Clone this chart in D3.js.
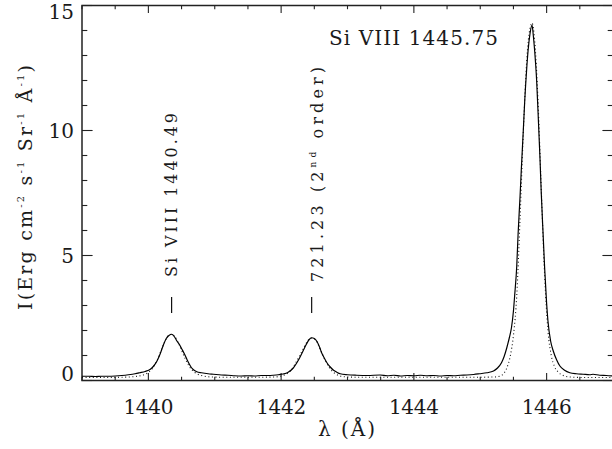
<!DOCTYPE html>
<html>
<head>
<meta charset="utf-8">
<script src="https://cdn.jsdelivr.net/npm/d3@7"></script>
<style>
  body { margin: 0; background: #fff; }
  svg { display: block; }
  .frame { fill: none; stroke: #222; stroke-width: 1.5; }
  .tick { stroke: #222; stroke-width: 1.1; }
</style>
</head>
<body>
<svg id="chart" width="612" height="449"></svg>
<script>
// observed spectrum (solid)
const obsLam = [1439.00, 1439.10, 1439.20, 1439.30, 1439.40, 1439.50, 1439.60, 1439.70, 1439.80, 1439.87,
  1439.95, 1440.03, 1440.08, 1440.13, 1440.18, 1440.23, 1440.27, 1440.30, 1440.35, 1440.39,
  1440.43, 1440.47, 1440.50, 1440.54, 1440.58, 1440.62, 1440.65, 1440.69, 1440.73, 1440.80,
  1440.90, 1440.98, 1441.10, 1441.20, 1441.30, 1441.40, 1441.50, 1441.60, 1441.70, 1441.80,
  1441.88, 1441.96, 1442.03, 1442.10, 1442.18, 1442.23, 1442.28, 1442.33, 1442.38, 1442.42,
  1442.46, 1442.50, 1442.54, 1442.58, 1442.61, 1442.65, 1442.69, 1442.74, 1442.79, 1442.84,
  1442.89, 1443.00, 1443.14, 1443.30, 1443.49, 1443.60, 1443.70, 1443.80, 1443.90, 1444.00,
  1444.10, 1444.20, 1444.30, 1444.40, 1444.50, 1444.60, 1444.70, 1444.80, 1444.90, 1444.99,
  1445.10, 1445.20, 1445.26, 1445.32, 1445.36, 1445.40, 1445.44, 1445.47, 1445.50, 1445.52,
  1445.55, 1445.57, 1445.60, 1445.62, 1445.65, 1445.67, 1445.70, 1445.72, 1445.75, 1445.78,
  1445.80, 1445.82, 1445.85, 1445.87, 1445.90, 1445.92, 1445.95, 1445.97, 1446.00, 1446.02,
  1446.06, 1446.10, 1446.15, 1446.20, 1446.27, 1446.35, 1446.45, 1446.55, 1446.65, 1446.70,
  1446.80, 1446.90, 1447.00];
const obsInt = [0.17, 0.17, 0.16, 0.17, 0.17, 0.18, 0.20, 0.23, 0.27, 0.31,
  0.36, 0.45, 0.58, 0.78, 1.08, 1.45, 1.68, 1.78, 1.85, 1.76,
  1.58, 1.43, 1.28, 1.08, 0.85, 0.64, 0.51, 0.41, 0.35, 0.31,
  0.27, 0.25, 0.22, 0.21, 0.19, 0.18, 0.19, 0.18, 0.20, 0.20,
  0.21, 0.23, 0.26, 0.32, 0.49, 0.68, 0.91, 1.18, 1.45, 1.63,
  1.71, 1.68, 1.56, 1.33, 1.11, 0.90, 0.71, 0.54, 0.41, 0.33,
  0.27, 0.23, 0.21, 0.20, 0.22, 0.19, 0.21, 0.18, 0.20, 0.19,
  0.21, 0.19, 0.20, 0.18, 0.20, 0.19, 0.21, 0.22, 0.24, 0.27,
  0.31, 0.38, 0.50, 0.71, 0.96, 1.31, 1.73, 2.11, 2.78, 3.45,
  4.58, 5.85, 7.38, 8.51, 10.08, 11.18, 12.48, 13.18, 13.88, 14.22,
  13.78, 13.18, 11.98, 10.78, 8.88, 7.45, 5.68, 4.51, 3.08, 2.38,
  1.58, 1.18, 0.83, 0.58, 0.41, 0.31, 0.27, 0.25, 0.23, 0.25,
  0.21, 0.20, 0.18];

// fitted profile (dotted)
const fitLam = [1439.00, 1439.30, 1439.60, 1439.80, 1439.95, 1440.05, 1440.13, 1440.23, 1440.30, 1440.35,
  1440.40, 1440.47, 1440.55, 1440.62, 1440.70, 1440.80, 1440.95, 1441.20, 1441.60, 1441.90,
  1442.05, 1442.15, 1442.25, 1442.33, 1442.40, 1442.46, 1442.52, 1442.60, 1442.68, 1442.76,
  1442.85, 1442.95, 1443.20, 1443.80, 1444.40, 1444.90, 1445.20, 1445.30, 1445.36, 1445.40,
  1445.45, 1445.50, 1445.55, 1445.60, 1445.65, 1445.70, 1445.75, 1445.78, 1445.82, 1445.87,
  1445.92, 1445.97, 1446.02, 1446.07, 1446.12, 1446.18, 1446.25, 1446.35, 1446.60, 1447.00];
const fitInt = [0.12, 0.12, 0.13, 0.16, 0.25, 0.45, 0.80, 1.45, 1.80, 1.85,
  1.75, 1.40, 0.90, 0.55, 0.32, 0.20, 0.14, 0.13, 0.13, 0.14,
  0.22, 0.42, 0.85, 1.25, 1.58, 1.70, 1.62, 1.18, 0.72, 0.40,
  0.22, 0.15, 0.13, 0.13, 0.13, 0.13, 0.14, 0.18, 0.30, 0.50,
  0.95, 1.80, 3.40, 6.50, 10.00, 12.80, 14.10, 14.30, 13.60, 11.20,
  7.60, 4.20, 2.00, 1.00, 0.55, 0.32, 0.20, 0.14, 0.12, 0.12];

const xTicks = [1440, 1442, 1444, 1446];
const yTicks = [0, 5, 10, 15];
const lineMarks = [1440.35, 1442.46];

const FONT = '"DejaVu Serif", "Liberation Serif", serif';
const svg = d3.select('#chart');
const x = d3.scaleLinear().domain([1439, 1447]).range([82, 613]);
const y = d3.scaleLinear().domain([0, 15]).range([380.5, 5.5]);
const [x0, x1] = x.range();
const [y0, y1] = y.range();

const txt = (sel) => sel.style('font-family', FONT).attr('fill', '#1a1a1a');

svg.append('defs').append('clipPath').attr('id', 'plot')
  .append('rect').attr('x', x0).attr('y', y1).attr('width', x1 - x0).attr('height', y0 - y1);

// ticks: IDL style, on all four sides
const xMinor = d3.range(1439, 1447.01, 0.5);
const yMinor = d3.range(0, 15.01, 1);
const tk = svg.append('g');
xMinor.forEach(v => {
  const len = xTicks.includes(v) ? 7.5 : 3.7;
  tk.append('line').attr('class', 'tick').attr('x1', x(v)).attr('x2', x(v)).attr('y1', y0).attr('y2', y0 - len);
  tk.append('line').attr('class', 'tick').attr('x1', x(v)).attr('x2', x(v)).attr('y1', y1).attr('y2', y1 + len);
});
yMinor.forEach(v => {
  const len = yTicks.includes(v) ? 10.6 : 5.3;
  tk.append('line').attr('class', 'tick').attr('x1', x0).attr('x2', x0 + len).attr('y1', y(v)).attr('y2', y(v));
  tk.append('line').attr('class', 'tick').attr('x1', x1).attr('x2', x1 - len).attr('y1', y(v)).attr('y2', y(v));
});
svg.append('rect').attr('class', 'frame')
  .attr('x', x0).attr('y', y1).attr('width', x1 - x0).attr('height', y0 - y1);

// tick labels
svg.append('g').selectAll('text').data(xTicks).join('text')
  .call(txt)
  .attr('x', d => x(d)).attr('y', 414)
  .attr('text-anchor', 'middle').attr('font-size', 20)
  .attr('textLength', 50).attr('lengthAdjust', 'spacing')
  .text(d => d);
svg.append('g').selectAll('text').data(yTicks).join('text')
  .call(txt)
  .attr('x', 74).attr('y', d => Math.min(Math.max(y(d), 12), 374))
  .attr('dy', '0.36em')
  .attr('text-anchor', 'end').attr('font-size', 20)
  .text(d => d);

// curves
const line = (lam, val) => d3.line()
  .x((d, i) => x(lam[i])).y((d, i) => y(val[i]))
  .curve(d3.curveMonotoneX)(lam);
const curves = svg.append('g').attr('clip-path', 'url(#plot)');
curves.append('path').attr('d', line(fitLam, fitInt))
  .attr('fill', 'none').attr('stroke', '#111').attr('stroke-width', 1.1)
  .attr('stroke-dasharray', '1,2.6');
curves.append('path').attr('d', line(obsLam, obsInt))
  .attr('fill', 'none').attr('stroke', '#000').attr('stroke-width', 1.2);

// line markers
lineMarks.forEach(l => {
  svg.append('line').attr('x1', x(l)).attr('x2', x(l)).attr('y1', 297).attr('y2', 313)
    .attr('stroke', '#111').attr('stroke-width', 1.2);
});

// stretch text to a given length by letter-spacing
function fit(t, target) {
  const n = t.node();
  const len = n.getComputedTextLength();
  const chars = n.textContent.length;
  t.attr('letter-spacing', (target - len) / (chars - 1));
  return t;
}

// annotations
fit(svg.append('text').call(txt).attr('x', 329).attr('y', 45).attr('font-size', 20)
  .text('Si VIII 1445.75'), 169);

fit(svg.append('text').call(txt).attr('transform', 'translate(176.5,277) rotate(-90)')
  .attr('font-size', 16).text('Si VIII 1440.49'), 164);

const t2 = svg.append('text').call(txt).attr('transform', 'translate(323,282) rotate(-90)').attr('font-size', 16);
t2.append('tspan').text('721.23 (2');
t2.append('tspan').attr('font-size', 9).attr('dy', -7).text('nd');
t2.append('tspan').attr('dy', 7).text(' order)');
fit(t2, 215);

// axis titles
fit(svg.append('text').call(txt).attr('x', 318).attr('y', 436).attr('font-size', 20).text('λ (Å)'), 57);

const yt = svg.append('text').call(txt).attr('transform', 'translate(32,310) rotate(-90)').attr('font-size', 19);
const sup = (s) => { yt.append('tspan').attr('font-size', 10).attr('dy', -8).text(s); };
const reg = (s) => { yt.append('tspan').attr('dy', 8).text(s); };
yt.append('tspan').text('I(Erg cm');
sup('-2'); reg(' s'); sup('-1'); reg(' Sr'); sup('-1'); reg(' Å'); sup('-1'); reg(')');
fit(yt, 245);
</script>
</body>
</html>
